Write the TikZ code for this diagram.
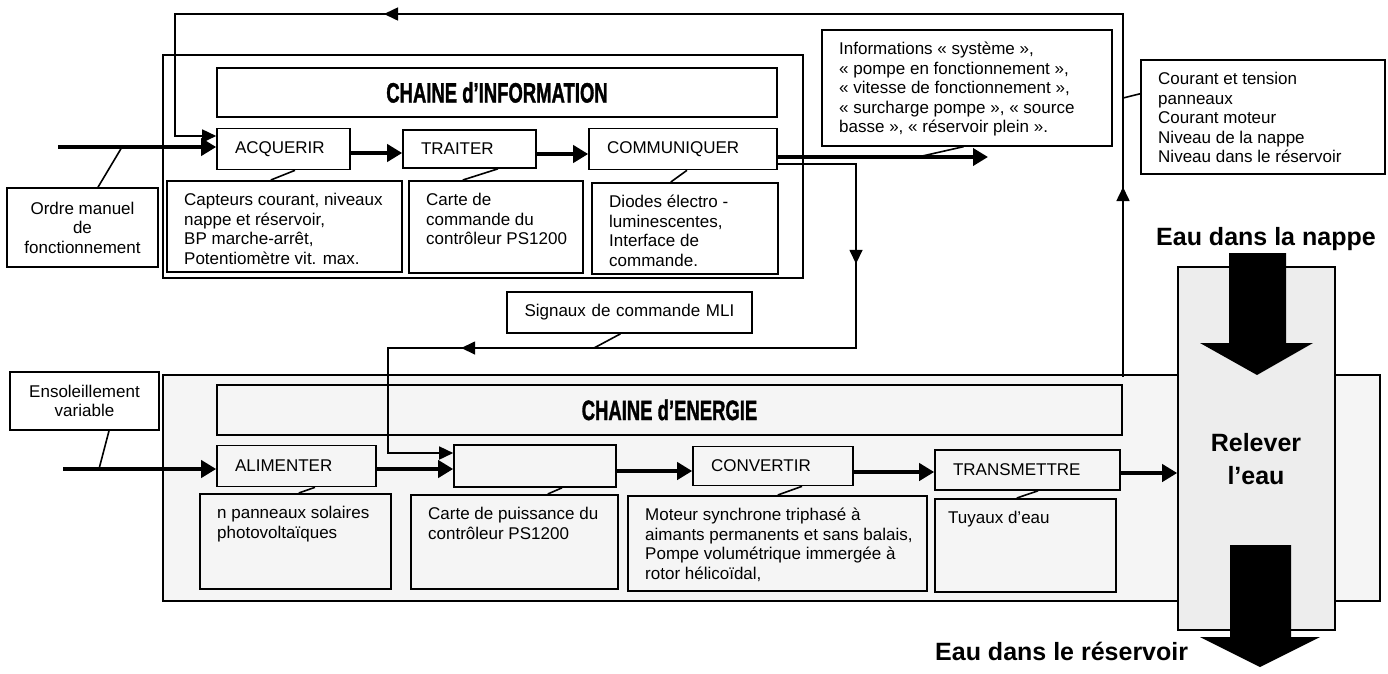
\documentclass[tikz,border=0pt]{standalone}
\usepackage{fontspec}
\setmainfont{Liberation Sans}
\newfontfamily\titrefont[BoldFeatures={FakeBold=1.6}]{Liberation Sans}
\usepackage{graphicx}
\usetikzlibrary{arrows.meta,calc,decorations.markings}

\newcommand{\petit}{\fontsize{17}{19.5}\selectfont}
\newcommand{\grand}{\fontsize{25}{30}\selectfont\bfseries}
\newcommand{\titrechaine}[1]{\scalebox{0.66}[1]{\titrefont\fontsize{28}{30}\selectfont\bfseries #1}}

\tikzset{
  cadre/.style={draw, line width=1.6pt},
  fonction/.style={cadre, fill=white, inner xsep=18pt, align=left, font=\petit},
  desc/.style={cadre, fill=white, anchor=north west, inner sep=0pt},
  texte/.style={anchor=north west, inner xsep=18pt, inner ysep=13pt, align=left, font=\petit},
  fil/.style={line width=1.6pt},
  gros/.style={line width=4pt, -{Triangle[length=15pt,width=17pt]}},
  pointe/.style={-{Triangle[length=14pt,width=13pt]}},
  milieux/.style 2 args={postaction={decorate}, decoration={markings,
      mark=at position #1 with {\arrow{Triangle[length=14pt,width=13pt]}},
      mark=at position #2 with {\arrow{Triangle[length=14pt,width=13pt]}}}},
}

\begin{document}
\begin{tikzpicture}[x=1pt, y=-1pt]
\useasboundingbox[fill=white] (0,0) rectangle (1388,673);

% Chaine d'information
\node[cadre, minimum width=640pt, minimum height=223pt] (cadreinfo) at (483,166.5) {};
\node[cadre, minimum width=560pt, minimum height=49pt] (titreinfo) at (497,92.5) {\titrechaine{CHAINE d’INFORMATION}};

\node[fonction, text width=97pt, minimum height=41pt] (acquerir) at (283.5,149) {ACQUERIR};
\node[fonction, text width=97pt, minimum height=38pt] (traiter) at (469.5,149) {TRAITER};
\node[fonction, text width=152pt, minimum height=41pt] (communiquer) at (683,149) {COMMUNIQUER};

\node[desc, minimum width=235pt, minimum height=91pt, label={[texte]north west:{Capteurs courant, niveaux\\nappe et réservoir,\\BP marche-arrêt,\\Potentiomètre vit. max.}}] (capteurs) at (166,180) {};
\node[desc, minimum width=174pt, minimum height=92pt, label={[texte]north west:{Carte de\\commande du\\contrôleur PS1200}}] (cartecommande) at (408,180) {};
\node[desc, minimum width=186pt, minimum height=91pt, label={[texte]north west:{Diodes électro -\\luminescentes,\\Interface de\\commande.}}] (diodes) at (591,182) {};

% Boites exterieures
\node[cadre, minimum width=151pt, minimum height=79pt, align=center, font=\petit] (ordre) at (82.5,227.5) {Ordre manuel\\de\\fonctionnement};
\node[desc, minimum width=290pt, minimum height=116pt, label={[texte]north west:{Informations « système »,\\« pompe en fonctionnement »,\\« vitesse de fonctionnement »,\\« surcharge pompe », « source\\basse », « réservoir plein ».}}] (infos) at (821,29) {};
\node[desc, minimum width=244pt, minimum height=114pt, label={[texte]north west:{Courant et tension\\panneaux\\Courant moteur\\Niveau de la nappe\\Niveau dans le réservoir}}] (courant) at (1140,59) {};
\node[fonction, inner xsep=17.5pt, text width=210pt, minimum height=41pt] (signaux) at (629.5,312.5) {Signaux de commande MLI};

% Chaine d'energie
\node[cadre, fill=black!4, minimum width=1217pt, minimum height=226pt] (cadreenergie) at (771.5,488) {};
\node[cadre, minimum width=905pt, minimum height=50pt] (titreenergie) at (669.5,410) {\titrechaine{CHAINE d’ENERGIE}};
\node[cadre, minimum width=149pt, minimum height=58pt, align=center, font=\petit] (enso) at (84.5,401) {Ensoleillement\\variable};

\node[fonction, fill=none, text width=123pt, minimum height=41pt] (alimenter) at (296.5,466) {ALIMENTER};
\node[fonction, fill=none, text width=126pt, minimum height=42pt] (moduler) at (535,466) {};
\node[fonction, fill=none, text width=124pt, minimum height=39pt] (convertir) at (773,466) {CONVERTIR};
\node[fonction, fill=none, text width=149pt, minimum height=40pt] (transmettre) at (1027.5,470) {TRANSMETTRE};

\node[desc, fill=none, minimum width=191pt, minimum height=95pt, label={[texte]north west:{n panneaux solaires\\photovoltaïques}}] (panneaux) at (199,493) {};
\node[desc, fill=none, minimum width=207pt, minimum height=94pt, label={[texte]north west:{Carte de puissance du\\contrôleur PS1200}}] (puissance) at (410,494) {};
\node[desc, fill=none, minimum width=299pt, minimum height=95pt, label={[texte]north west:{Moteur synchrone triphasé à\\aimants permanents et sans balais,\\Pompe volumétrique immergée à\\rotor hélicoïdal,}}] (moteur) at (627,495) {};
\node[desc, fill=none, minimum width=181pt, minimum height=93pt, label={[texte, inner xsep=14pt]north west:{Tuyaux d’eau}}] (tuyaux) at (934,498) {};

% Fonction globale et matiere d'oeuvre
\node[cadre, fill=black!7, minimum width=157pt, minimum height=363pt] (relever) at (1256.5,448.5) {};
\node[font=\grand, align=center] (releverlbl) at (1256,459) {Relever\\[3pt]l’eau};
\fill (1229,253) -- (1286,253) -- (1286,343) -- (1313,343) -- (1257,375) -- (1200,343) -- (1229,343) -- cycle;
\fill (1230,545) -- (1291,545) -- (1291,637) -- (1320,637) -- (1260,667) -- (1200,637) -- (1230,637) -- cycle;
\node[font=\grand, anchor=base west, inner sep=0pt] (nappe) at (1156,245) {Eau dans la nappe};
\node[font=\grand, anchor=base west, inner sep=0pt] (reservoir) at (935,660) {Eau dans le réservoir};

% Fleches de la chaine d'information
\coordinate (entreeinfo) at (58,147);
\coordinate (pordre) at (122,147);
\draw[gros] (entreeinfo) -- (entreeinfo -| acquerir.west);
\draw[fil] ([xshift=15.5pt]ordre.north) -- (pordre);
\draw[gros] ($(acquerir.east)+(0,4)$) coordinate (a1) -- (a1 -| traiter.west);
\draw[gros] ($(traiter.east)+(0,5)$) coordinate (a2) -- (a2 -| communiquer.west);
\coordinate (sortieinfo) at (988,157);
\coordinate (pinfos) at (918,157);
\draw[gros] (communiquer.east |- sortieinfo) -- (sortieinfo);
\draw[fil] ([xshift=-3pt]infos.south) -- (pinfos);

% Liens vers les descriptions
\draw[fil] ([xshift=11.5pt]acquerir.south) -- ([xshift=-13.5pt]capteurs.north);
\draw[fil] ([xshift=28.5pt]traiter.south) -- ([xshift=-33pt]cartecommande.north);
\draw[fil] ([xshift=4pt]communiquer.south) -- ([xshift=-14pt]diodes.north);
\draw[fil] ([xshift=18.5pt]alimenter.south) -- ([xshift=3.5pt]panneaux.north);
\draw[fil] ([xshift=27pt]moduler.south) -- ([xshift=33.5pt]puissance.north);
\draw[fil] ([xshift=29pt]convertir.south) -- ([xshift=0.5pt]moteur.north);
\draw[fil] ([xshift=10.5pt]transmettre.south) -- ([xshift=-8.5pt]tuyaux.north);

% Retour des informations vers ACQUERIR
\coordinate (retourbas) at (1123,377);
\coordinate (retourhaut) at (1123,14);
\coordinate (retourgauche) at (175,14);
\coordinate (pcourant) at (1123,98);
\draw[fil, pointe, milieux={190pt}{1102pt}] (retourbas) -- (retourhaut) -- (retourgauche) |- ($(acquerir.west)+(0,-13)$);
\draw[fil] ([yshift=23pt]courant.west) -- (pcourant);

% Signaux de commande
\coordinate (mliA) at (856,164);
\coordinate (mliB) at (856,348);
\coordinate (mliC) at (388,348);
\coordinate (psignaux) at (594,348);
\draw[fil, pointe, milieux={178pt}{657pt}] ($(communiquer.east)+(0,15)$) -- (mliA) -- (mliB) -- (mliC) |- ($(moduler.west)+(0,-13)$);
\draw[fil] ([xshift=-9pt]signaux.south) -- (psignaux);

% Fleches de la chaine d'energie
\coordinate (entreeenergie) at (63,469);
\coordinate (penso) at (99,469);
\draw[gros] (entreeenergie) -- (entreeenergie -| alimenter.west);
\draw[fil] ([xshift=24.5pt]enso.south) -- (penso);
\draw[gros] ($(alimenter.east)+(0,3)$) coordinate (e1) -- (e1 -| moduler.west);
\draw[gros] ($(moduler.east)+(0,5)$) coordinate (e2) -- (e2 -| convertir.west);
\draw[gros] ($(convertir.east)+(0,6)$) coordinate (e3) -- (e3 -| transmettre.west);
\draw[gros] ($(transmettre.east)+(0,3)$) coordinate (e4) -- (e4 -| relever.west);
\end{tikzpicture}
\end{document}
